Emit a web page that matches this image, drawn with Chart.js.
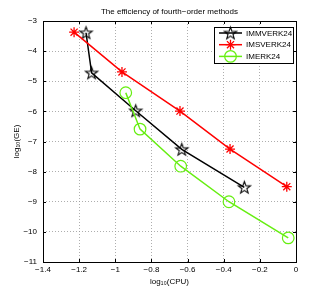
<!DOCTYPE html>
<html>
<head>
<meta charset="utf-8">
<script src="https://cdn.jsdelivr.net/npm/chart.js@4.4.0/dist/chart.umd.min.js"></script>
<style>
  body { margin: 0; background: #fff; }
  canvas { display: block; }
</style>
</head>
<body>
<canvas id="effChart" width="327" height="294"></canvas>
<script>
// datos (log10 CPU, log10 GE)
const cpuImmverk = [-1.162, -1.131, -0.887, -0.632, -0.286];
const geImmverk = [-3.39, -4.72, -5.98, -7.26, -8.52];
const cpuImsverk = [-1.228, -0.963, -0.642, -0.365, -0.051];
const geImsverk = [-3.37, -4.69, -5.99, -7.25, -8.50];
const cpuImerk = [-0.942, -0.863, -0.638, -0.371, -0.043];
const geImerk = [-5.38, -6.59, -7.82, -9.00, -10.20];
const seriesNames = ['IMMVERK24', 'IMSVERK24', 'IMERK24'];
const xTicks = [-1.4, -1.2, -1, -0.8, -0.6, -0.4, -0.2, 0];
const yTicks = [-11, -10, -9, -8, -7, -6, -5, -4, -3];

const FONT = "'Liberation Sans', Arial, sans-serif";
const GREEN = '#66ee11';

function toPts(xs, ys) {
    return xs.map((x, i) => ({ x: x, y: ys[i] }));
}

function fmtNum(v) {
    return String(v).replace('-', '\u2212');
}

// pentagrama (estrella de 5 puntas) sin relleno
function makePentagram(r, color) {
    const c = document.createElement('canvas');
    const s = Math.ceil(r * 2 + 4);
    c.width = s; c.height = s;
    const g = c.getContext('2d');
    const cx = s / 2, cy = s / 2 + 0.5;
    const rin = r * 0.4;
    g.beginPath();
    for (let i = 0; i < 10; i++) {
        const rr = i % 2 === 0 ? r : rin;
        const a = -Math.PI / 2 + i * Math.PI / 5;
        const px = cx + rr * Math.cos(a), py = cy + rr * Math.sin(a);
        if (i === 0) g.moveTo(px, py); else g.lineTo(px, py);
    }
    g.closePath();
    g.strokeStyle = color;
    g.lineWidth = 1.1;
    g.stroke();
    return c;
}
const pentaImg = makePentagram(6.4, '#000');

function drawAsterisk(ctx, x, y, r, color) {
    ctx.save();
    ctx.strokeStyle = color;
    ctx.lineWidth = 1.3;
    ctx.beginPath();
    for (let i = 0; i < 4; i++) {
        const a = i * Math.PI / 4;
        ctx.moveTo(x - r * Math.cos(a), y - r * Math.sin(a));
        ctx.lineTo(x + r * Math.cos(a), y + r * Math.sin(a));
    }
    ctx.stroke();
    ctx.restore();
}

// marco, ticks hacia adentro y leyenda con caja
const framePlugin = {
    id: 'frame',
    afterDatasetsDraw(chart) {
        const ctx = chart.ctx;
        const a = chart.chartArea;
        const xs = chart.scales.x, ys = chart.scales.y;
        ctx.save();
        ctx.strokeStyle = '#000';
        ctx.lineWidth = 1;
        ctx.strokeRect(Math.round(a.left) + 0.5, Math.round(a.top) + 0.5,
            Math.round(a.right - a.left), Math.round(a.bottom - a.top));
        ctx.beginPath();
        xTicks.forEach(t => {
            const px = Math.round(xs.getPixelForValue(t)) + 0.5;
            ctx.moveTo(px, a.bottom); ctx.lineTo(px, a.bottom - 3);
            ctx.moveTo(px, a.top); ctx.lineTo(px, a.top + 3);
        });
        yTicks.forEach(t => {
            const py = Math.round(ys.getPixelForValue(t)) + 0.5;
            ctx.moveTo(a.left, py); ctx.lineTo(a.left + 3, py);
            ctx.moveTo(a.right, py); ctx.lineTo(a.right - 3, py);
        });
        ctx.stroke();

        // leyenda
        const bx = 214.5, by = 27.5, bw = 79, bh = 36;
        ctx.fillStyle = '#fff';
        ctx.fillRect(bx, by, bw, bh);
        ctx.strokeRect(bx, by, bw, bh);
        ctx.font = '8px ' + FONT;
        ctx.textBaseline = 'middle';
        ctx.textAlign = 'left';
        chart.data.datasets.forEach((ds, i) => {
            const ly = 33 + i * 11.7;
            ctx.strokeStyle = ds.borderColor;
            ctx.lineWidth = 1.5;
            ctx.beginPath();
            ctx.moveTo(219, ly); ctx.lineTo(242, ly);
            ctx.stroke();
            const mx = 230.5;
            if (i === 0) {
                ctx.drawImage(pentaImg, mx - pentaImg.width / 2, ly - pentaImg.height / 2);
            } else if (i === 1) {
                drawAsterisk(ctx, mx, ly, 5, ds.borderColor);
            } else {
                ctx.lineWidth = 1.2;
                ctx.beginPath();
                ctx.arc(mx, ly, 5.8, 0, Math.PI * 2);
                ctx.stroke();
            }
            ctx.fillStyle = '#000';
            ctx.fillText(ds.label, 246, ly + 0.5);
        });
        ctx.restore();
    }
};

const ctx = document.getElementById('effChart').getContext('2d');

new Chart(ctx, {
    type: 'line',
    data: {
        datasets: [{
            label: seriesNames[0],
            data: toPts(cpuImmverk, geImmverk),
            borderColor: '#000',
            borderWidth: 1.5,
            pointStyle: pentaImg,
            order: 3
        }, {
            label: seriesNames[1],
            data: toPts(cpuImsverk, geImsverk),
            borderColor: '#ff0000',
            borderWidth: 1.5,
            pointStyle: 'star',
            pointRadius: 5,
            pointBorderWidth: 1.3,
            pointBackgroundColor: 'rgba(0,0,0,0)',
            order: 2
        }, {
            label: seriesNames[2],
            data: toPts(cpuImerk, geImerk),
            borderColor: GREEN,
            borderWidth: 1.5,
            pointStyle: 'circle',
            pointRadius: 5.8,
            pointBorderWidth: 1.2,
            pointBackgroundColor: 'rgba(0,0,0,0)',
            order: 1
        }]
    },
    options: {
        responsive: false,
        animation: false,
        layout: { padding: { left: 0, right: 31, top: 0, bottom: 0 } },
        elements: { line: { tension: 0 } },
        scales: {
            x: {
                type: 'linear',
                min: -1.4, max: 0,
                afterBuildTicks: s => { s.ticks = xTicks.map(v => ({ value: v })); },
                afterFit: s => { s.height = 32; },
                ticks: {
                    callback: v => fmtNum(v),
                    color: '#000',
                    font: { family: FONT, size: 8 },
                    padding: 3,
                    maxRotation: 0
                },
                grid: { color: '#999', drawTicks: false, lineWidth: 0.8 },
                border: { display: false, dash: [1, 2] },
                title: {
                    display: true,
                    text: 'log\u2081\u2080(CPU)',
                    color: '#000',
                    font: { family: FONT, size: 8 },
                    padding: { top: 0, bottom: 7 }
                }
            },
            y: {
                min: -11, max: -3,
                afterBuildTicks: s => { s.ticks = yTicks.map(v => ({ value: v })); },
                afterFit: s => { s.width = 43; },
                ticks: {
                    callback: v => fmtNum(v),
                    color: '#000',
                    font: { family: FONT, size: 8 },
                    padding: 6
                },
                grid: { color: '#999', drawTicks: false, lineWidth: 0.8 },
                border: { display: false, dash: [1, 2] },
                title: {
                    display: true,
                    text: 'log\u2081\u2080(GE)',
                    color: '#000',
                    font: { family: FONT, size: 8 },
                    padding: { top: 12, bottom: 0 }
                }
            }
        },
        plugins: {
            legend: { display: false },
            tooltip: { enabled: false },
            title: {
                display: true,
                fullSize: false,
                text: 'The efficiency of fourth\u2212order methods',
                color: '#000',
                font: { family: FONT, size: 8, weight: 'normal' },
                padding: { top: 6.5, bottom: 4.9 }
            }
        }
    },
    plugins: [framePlugin]
});
</script>
</body>
</html>
